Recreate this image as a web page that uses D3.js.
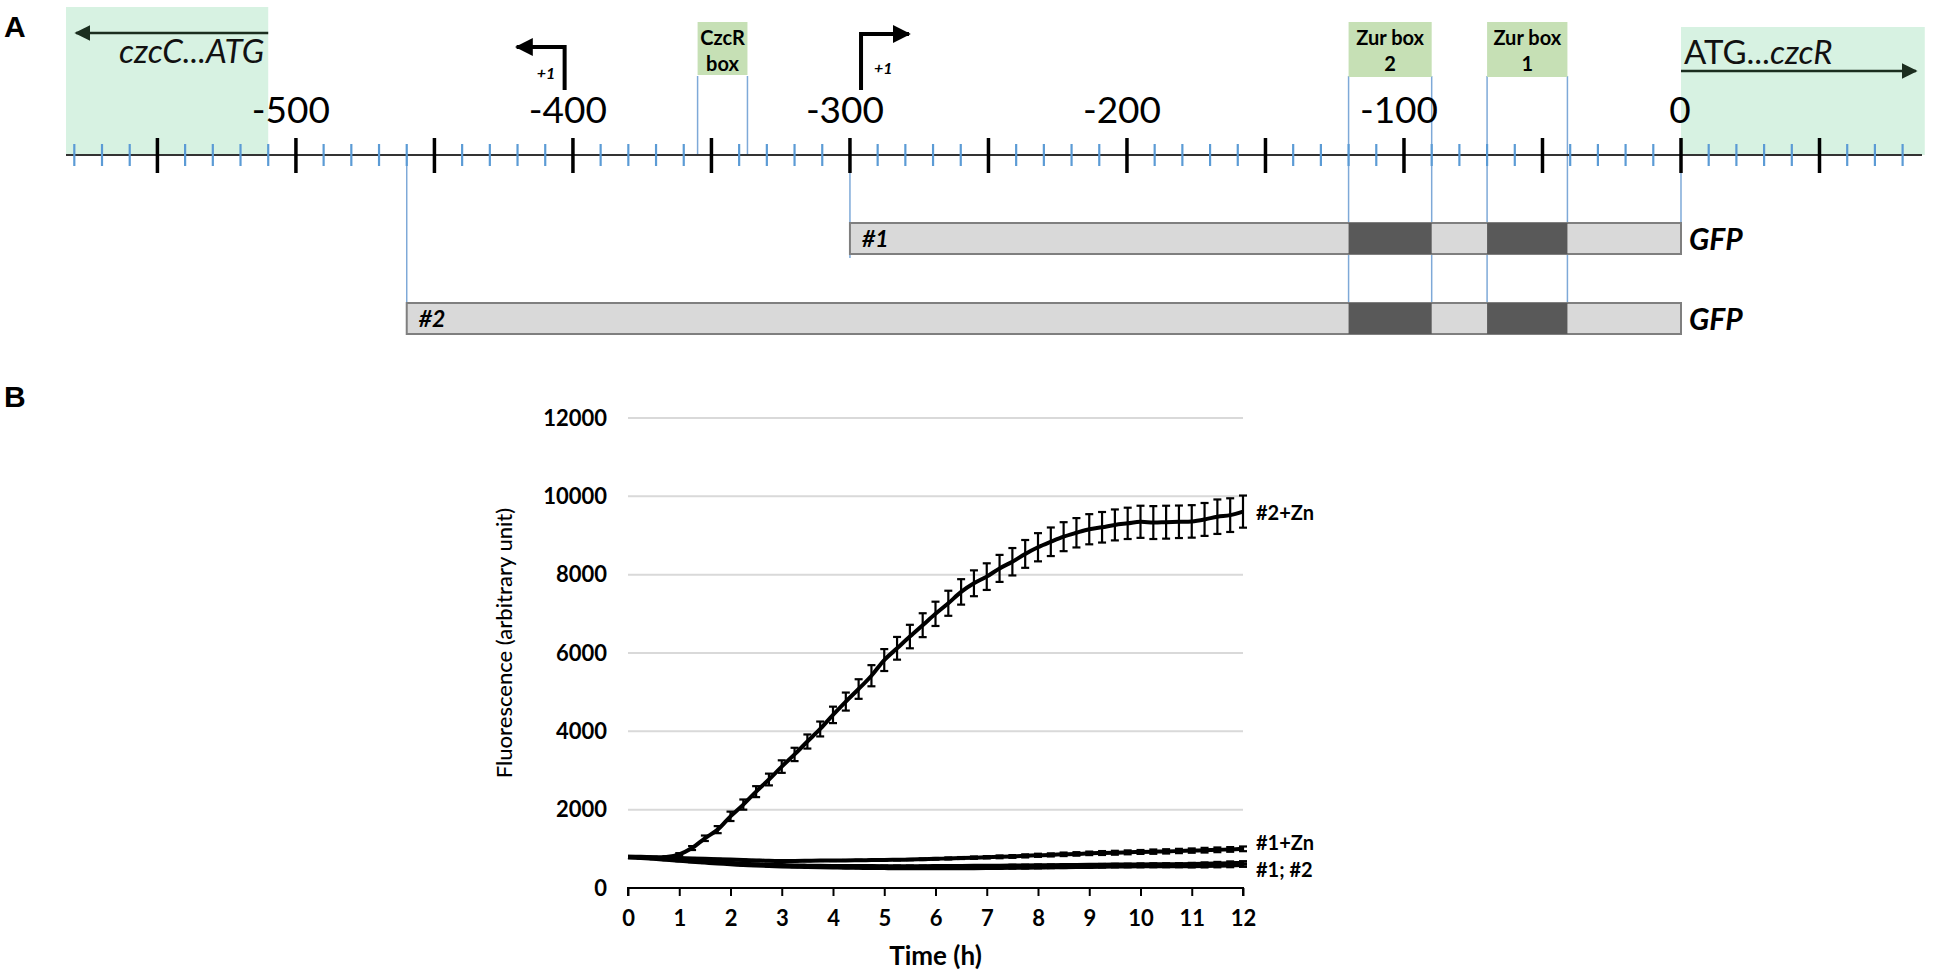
<!DOCTYPE html>
<html><head><meta charset="utf-8">
<script src="https://cdn.jsdelivr.net/npm/d3@7"></script>
<style>body{margin:0;background:#fff}svg{display:block}</style>
</head><body>
<svg id="c" width="1944" height="977"></svg>
<script>
// ---------- Panel A data (positions in bp relative to czcR ATG) ----------
const bpLabels = [-500, -400, -300, -200, -100, 0];
const siteNames = [["CzcR", "box"], ["Zur box", "2"], ["Zur box", "1"]];
const siteStart = [-355, -120, -70];
const siteEnd = [-337, -90, -41];
const promoterPos = [-403, -296];
const promoterDir = [-1, 1];
const constructNames = ["#1", "#2"];
const constructStart = [-300, -460];
const constructEnd = [0, 0];
const leftGene = {label: "czcC...ATG", start: -583, end: -510};
const rightGene = {label1: "ATG...", label2: "czcR", start: 0, end: 88};

// ---------- Panel B data ----------
const times = [0,0.25,0.5,0.75,1,1.25,1.5,1.75,2,2.25,2.5,2.75,3,3.25,3.5,3.75,4,4.25,4.5,4.75,5,5.25,5.5,5.75,6,6.25,6.5,6.75,7,7.25,7.5,7.75,8,8.25,8.5,8.75,9,9.25,9.5,9.75,10,10.25,10.5,10.75,11,11.25,11.5,11.75,12];
const s2Zn = [800,790,775,790,860,1020,1270,1490,1830,2130,2460,2770,3100,3410,3740,4060,4420,4760,5080,5420,5820,6120,6420,6710,7000,7270,7560,7780,7950,8160,8330,8530,8700,8840,8970,9070,9160,9210,9270,9310,9350,9330,9340,9350,9360,9410,9480,9520,9610];
const e2Zn = [20,20,20,20,30,50,70,90,120,130,140,150,160,170,180,190,210,230,250,270,280,290,300,305,310,320,325,330,340,345,350,355,360,365,370,375,385,390,395,400,410,420,420,415,415,420,440,430,410];
const s1Zn = [800,795,785,775,765,755,745,735,725,715,705,695,690,690,695,700,700,705,710,712,715,720,725,735,745,755,765,775,785,795,805,820,835,845,860,870,885,893,900,910,920,928,935,945,955,965,975,985,1000];
const e1Zn = [10,10,10,10,10,10,10,10,10,10,10,10,10,10,10,10,10,10,10,10,15,15,15,20,20,25,25,30,30,35,35,40,40,40,45,45,45,50,50,50,50,55,55,55,55,60,60,60,60];
const s1 = [790,780,765,745,722,700,680,660,640,622,607,595,585,577,571,567,564,562,560,559,558,557,557,558,560,562,564,566,568,570,573,576,579,582,585,588,591,594,597,600,603,605,607,609,612,618,626,634,640];
const e1 = [10,10,10,10,10,10,10,10,10,10,10,10,10,10,10,10,10,10,10,10,15,15,15,15,15,15,15,15,15,15,20,20,20,20,20,20,20,20,20,20,25,25,25,25,30,35,40,45,45];
const s2 = [780,765,745,720,695,670,648,626,605,588,573,560,550,542,535,529,524,519,515,511,508,505,503,502,502,502,503,505,508,511,515,519,523,527,531,535,539,543,547,550,553,555,556,556,556,560,568,576,585];
const e2 = [10,10,10,10,10,10,10,10,10,10,10,10,10,10,10,10,10,10,10,10,15,15,15,15,15,15,15,15,15,15,20,20,20,20,20,20,20,20,20,20,25,25,25,25,30,35,40,45,45];
const seriesLabels = ["#2+Zn", "#1+Zn", "#1; #2"];
const yTicks = [0,2000,4000,6000,8000,10000,12000];
const xTicks = [0,1,2,3,4,5,6,7,8,9,10,11,12];

// ---------- drawing ----------
const svg = d3.select("#c");
const FONT = "Lato, 'Open Sans', 'DejaVu Sans', sans-serif";
const blue = "#7ea9d8";

svg.append("text").attr("x", 4).attr("y", 37).text("A")
  .attr("font-family", "'Liberation Sans', Arial, sans-serif").attr("font-weight", "bold").attr("font-size", 30);
svg.append("text").attr("x", 4).attr("y", 407).text("B")
  .attr("font-family", "'Liberation Sans', Arial, sans-serif").attr("font-weight", "bold").attr("font-size", 30);

// ----- Panel A -----
const bx = d3.scaleLinear().domain([-583, 87]).range([66, 1922]);
const axisY = 155;
const gA = svg.append("g");

gA.append("rect").attr("x", bx(leftGene.start)).attr("y", 7)
  .attr("width", bx(leftGene.end) - bx(leftGene.start)).attr("height", axisY - 7).attr("fill", "#d7f2e2");
gA.append("rect").attr("x", bx(rightGene.start)).attr("y", 27)
  .attr("width", bx(rightGene.end) - bx(rightGene.start)).attr("height", axisY - 27).attr("fill", "#d7f2e2");

const defs = svg.append("defs");
function marker(id, color, w, h) {
  defs.append("marker").attr("id", id).attr("viewBox", "0 0 10 10").attr("refX", 9).attr("refY", 5)
    .attr("markerWidth", w).attr("markerHeight", h).attr("markerUnits", "userSpaceOnUse").attr("orient", "auto")
    .append("path").attr("d", "M0,0 L10,5 L0,10 Z").attr("fill", color);
}
marker("geneArrow", "#1b2e1f", 16, 16);
marker("promArrow", "#000", 18, 20);

gA.append("line").attr("x1", bx(leftGene.end)).attr("x2", bx(leftGene.start) + 10).attr("y1", 33).attr("y2", 33)
  .attr("stroke", "#1b2e1f").attr("stroke-width", 2.5).attr("marker-end", "url(#geneArrow)");
gA.append("text").attr("x", bx(leftGene.end) - 4).attr("y", 63).attr("text-anchor", "end")
  .attr("font-family", FONT).attr("font-style", "italic").attr("font-size", 33).attr("fill", "#111").text(leftGene.label);
gA.append("line").attr("x1", bx(rightGene.start)).attr("x2", bx(rightGene.start) + 235).attr("y1", 71).attr("y2", 71)
  .attr("stroke", "#1b2e1f").attr("stroke-width", 2.5).attr("marker-end", "url(#geneArrow)");
const rt = gA.append("text").attr("x", bx(rightGene.start) + 3).attr("y", 64)
  .attr("font-family", FONT).attr("font-size", 33).attr("fill", "#111");
rt.append("tspan").text(rightGene.label1);
rt.append("tspan").attr("font-style", "italic").text(rightGene.label2);

siteStart.forEach((s, i) => {
  const top = 76, bottom = i === 0 ? axisY : 303;
  [s, siteEnd[i]].forEach(p => gA.append("line").attr("x1", bx(p)).attr("x2", bx(p))
    .attr("y1", top).attr("y2", bottom).attr("stroke", blue).attr("stroke-width", 1.5));
});
const barTop = [223, 303], barH = 31;
constructStart.forEach((s, i) => gA.append("line").attr("x1", bx(s)).attr("x2", bx(s))
  .attr("y1", axisY).attr("y2", barTop[i] + (i === 0 ? 35 : 0)).attr("stroke", blue).attr("stroke-width", 1.5));
gA.append("line").attr("x1", bx(0)).attr("x2", bx(0)).attr("y1", axisY).attr("y2", barTop[0])
  .attr("stroke", blue).attr("stroke-width", 1.5);

siteNames.forEach((n, i) => {
  const x0 = bx(siteStart[i]), x1 = bx(siteEnd[i]);
  gA.append("rect").attr("x", x0).attr("y", 22).attr("width", x1 - x0).attr("height", i === 0 ? 53 : 55).attr("fill", "#c6e0b5");
  gA.append("text").attr("x", (x0 + x1) / 2).attr("y", 45).attr("text-anchor", "middle")
    .attr("font-family", FONT).attr("font-weight", "bold").attr("font-size", 20).text(n[0]);
  gA.append("text").attr("x", (x0 + x1) / 2).attr("y", 71).attr("text-anchor", "middle")
    .attr("font-family", FONT).attr("font-weight", "bold").attr("font-size", 20).text(n[1]);
});

gA.append("line").attr("x1", 66).attr("x2", 1922).attr("y1", axisY).attr("y2", axisY).attr("stroke", "#333").attr("stroke-width", 2);
const minor = d3.range(-580, 81, 10).filter(d => d % 50 !== 0);
const major = d3.range(-550, 51, 50);
gA.selectAll(".mn").data(minor).join("line").attr("x1", d => bx(d)).attr("x2", d => bx(d))
  .attr("y1", axisY - 11).attr("y2", axisY + 11).attr("stroke", "#5b9bd5").attr("stroke-width", 2.2);
gA.selectAll(".mj").data(major).join("line").attr("x1", d => bx(d)).attr("x2", d => bx(d))
  .attr("y1", axisY - 17).attr("y2", axisY + 18).attr("stroke", "#000").attr("stroke-width", 3.5);
gA.selectAll(".bl").data(bpLabels).join("text").attr("x", d => bx(d) - (d === 0 ? 1 : 5)).attr("y", 123)
  .attr("text-anchor", "middle").attr("font-family", FONT).attr("font-size", 37).attr("fill", "#000").text(d => d);

promoterPos.forEach((p, i) => {
  const x = bx(p), dir = promoterDir[i];
  const yb = 90, yt = i === 0 ? 47 : 34;
  gA.append("path").attr("d", `M${x},${yb} L${x},${yt} L${x + dir * 48},${yt}`)
    .attr("fill", "none").attr("stroke", "#000").attr("stroke-width", 4).attr("marker-end", "url(#promArrow)");
  gA.append("text").attr("x", x + (dir < 0 ? -28 : 13)).attr("y", (i === 0 ? 79 : 74))
    .attr("font-family", FONT).attr("font-weight", "bold").attr("font-style", "italic").attr("font-size", 16).text("+1");
});

constructNames.forEach((n, i) => {
  const x0 = bx(constructStart[i]), x1 = bx(constructEnd[i]), y0 = barTop[i];
  gA.append("rect").attr("x", x0).attr("y", y0).attr("width", x1 - x0).attr("height", barH)
    .attr("fill", "#d9d9d9").attr("stroke", "#7f7f7f").attr("stroke-width", 2);
  [1, 2].forEach(k => {
    const a = bx(siteStart[k]), b = bx(siteEnd[k]);
    gA.append("rect").attr("x", a).attr("y", y0).attr("width", b - a).attr("height", barH).attr("fill", "#595959");
  });
  gA.append("text").attr("x", x0 + 12).attr("y", y0 + barH / 2 + 8)
    .attr("font-family", FONT).attr("font-weight", "bold").attr("font-style", "italic").attr("font-size", 23).text(n);
  gA.append("text").attr("x", x1 + 8).attr("y", y0 + barH / 2 + 11)
    .attr("font-family", FONT).attr("font-weight", "bold").attr("font-style", "italic").attr("font-size", 30).text("GFP");
});

// ----- Panel B -----
const x = d3.scaleLinear().domain([0, 12]).range([628, 1243]);
const y = d3.scaleLinear().domain([0, 12000]).range([888, 418]);
const gB = svg.append("g");

gB.selectAll(".grid").data(yTicks.filter(d => d > 0)).join("line")
  .attr("x1", x(0)).attr("x2", x(12)).attr("y1", d => y(d)).attr("y2", d => y(d))
  .attr("stroke", "#d9d9d9").attr("stroke-width", 2);

const yAxis = d3.axisLeft(y).tickValues(yTicks).tickFormat(d3.format("d")).tickSize(0).tickPadding(21);
const ya = gB.append("g").attr("transform", `translate(${x(0)},0)`).call(yAxis);
ya.select(".domain").remove();
ya.selectAll("text").attr("font-family", FONT).attr("font-weight", "bold").attr("font-size", 22).attr("fill", "#000");

const xAxis = d3.axisBottom(x).tickValues(xTicks).tickFormat(d3.format("d")).tickSize(8).tickSizeOuter(8).tickPadding(14);
const xa = gB.append("g").attr("transform", `translate(0,${y(0)})`).call(xAxis);
xa.select(".domain").attr("stroke", "#000").attr("stroke-width", 2).attr("d", `M${x(0)},8V0H${x(12)}V8`);
xa.selectAll(".tick line").attr("stroke", "#000").attr("stroke-width", 2);
xa.selectAll("text").attr("font-family", FONT).attr("font-weight", "bold").attr("font-size", 22).attr("fill", "#000");

gB.append("text").attr("x", (x(0) + x(12)) / 2).attr("y", 965).attr("text-anchor", "middle")
  .attr("font-family", FONT).attr("font-weight", "bold").attr("font-size", 26).text("Time (h)");
gB.append("text").attr("transform", "translate(512,643) rotate(-90)").attr("text-anchor", "middle")
  .attr("font-family", FONT).attr("font-size", 22).attr("font-weight", 500).text("Fluorescence (arbitrary unit)");

const line = d3.line().x(d => x(d[0])).y(d => y(d[1])).curve(d3.curveCatmullRom.alpha(0.5));
const series = [[s2, e2], [s1, e1], [s1Zn, e1Zn], [s2Zn, e2Zn]];
series.forEach(([vals, errs]) => {
  const pts = times.map((t, i) => [t, vals[i]]);
  gB.append("path").attr("d", line(pts)).attr("fill", "none").attr("stroke", "#000").attr("stroke-width", 4);
  const eb = gB.append("g").attr("stroke", "#000").attr("stroke-width", 2.2);
  times.forEach((t, i) => {
    if (i === 0) return;
    const cx = x(t), a = y(vals[i] - errs[i]), b = y(vals[i] + errs[i]);
    eb.append("line").attr("x1", cx).attr("x2", cx).attr("y1", a).attr("y2", b);
    eb.append("line").attr("x1", cx - 4).attr("x2", cx + 4).attr("y1", a).attr("y2", a);
    eb.append("line").attr("x1", cx - 4).attr("x2", cx + 4).attr("y1", b).attr("y2", b);
  });
});

const labY = [513, 843, 870];
seriesLabels.forEach((l, i) => gB.append("text").attr("x", 1256).attr("y", labY[i] + 7)
  .attr("font-family", FONT).attr("font-weight", "bold").attr("font-size", 20).text(l));
</script>
</body></html>
